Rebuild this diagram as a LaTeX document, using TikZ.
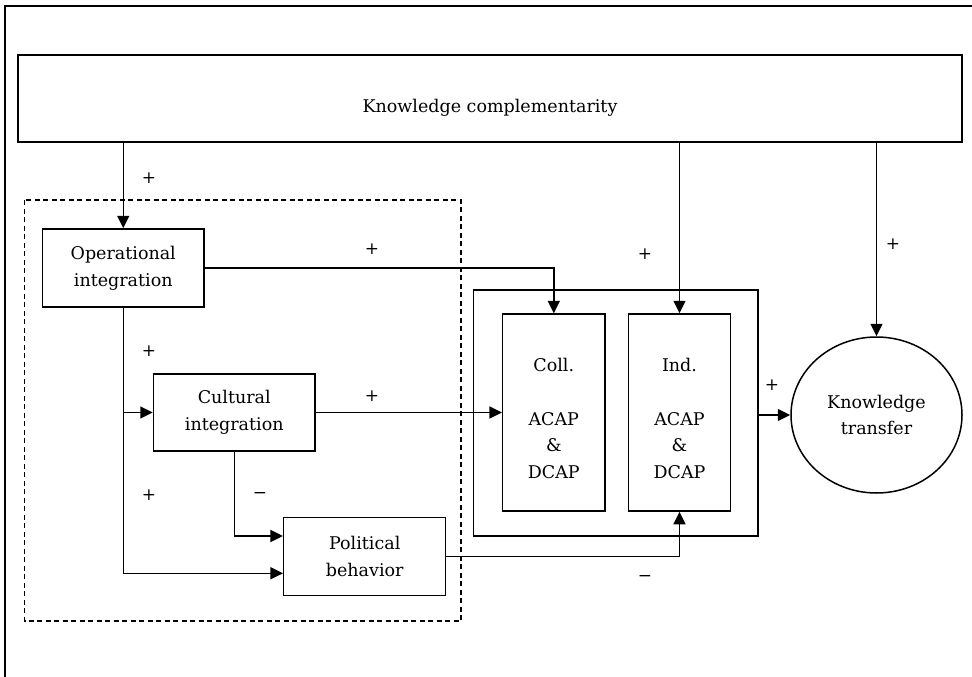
\documentclass[tikz,border=0pt]{standalone}
\usepackage{fontspec}
\setmainfont{DejaVu Serif}
\usetikzlibrary{arrows.meta,shapes.geometric,calc}
\begin{document}
\begin{tikzpicture}[x=1pt,y=-1pt,
  line width=1.5pt,
  txt/.style={font=\fontsize{17.5}{26.7}\selectfont},
  box/.style={draw,rectangle,inner sep=0pt,align=center,txt},
  capbox/.style={draw,rectangle,inner sep=0pt,minimum width=102.4,minimum height=197},
  captext/.style={inner sep=0pt,align=center,txt,yshift=-6pt},
  sign/.style={inner sep=0pt,font=\fontsize{17}{20}\selectfont},
  arr/.style={-{Triangle[length=12.5pt,width=12pt]}}]
\useasboundingbox (0,0) rectangle (972,677);
% page frame (only top and left edges are in view)
\draw (5,677) -- (5,6) -- (972,6);

% top factor
\node[box,minimum width=944,minimum height=87] (kc) at (490,98.5) {};
\node[txt,inner sep=0pt] (kclabel) at (490,108) {Knowledge complementarity};

% integration group
\draw[dashed,dash pattern=on 5pt off 3.5pt] (24.5,200) rectangle (461,621);
\node[box,minimum width=161.5,minimum height=78] (oi) at (123.25,268) {Operational\\integration};
\node[box,minimum width=161.5,minimum height=77] (ci) at (234.25,412.5) {Cultural\\integration};
\node[box,minimum width=162,minimum height=78] (pb) at (364.7,556.7) {Political\\behavior};

% capabilities
\node[box,minimum width=284.5,minimum height=246] (acap) at (615.5,413) {};
\node[capbox] (coll) at (553.8,412.5) {};
\node[captext] (colltext) at (coll.center) {Coll.\\[26.7pt]ACAP\\\&\\DCAP};
\node[capbox] (ind) at (679.5,412.5) {};
\node[captext] (indtext) at (ind.center) {Ind.\\[26.7pt]ACAP\\\&\\DCAP};

% outcome
\node[draw,ellipse,minimum width=171,minimum height=156,inner sep=0pt,align=center,txt] (kt) at (876.5,415) {Knowledge\\transfer};

% connectors
\draw[arr] (kc.south -| oi.north) -- (oi.north);
\draw[arr] (kc.south -| ind.north) -- (ind.north);
\draw[arr] (kc.south -| kt.north) -- (kt.north);
\draw[arr] (oi.east) -| (coll.north);
\draw[arr] (oi.south) |- ($(pb.west)+(0,16.6)$);
\draw[arr] (oi.south |- ci.west) -- (ci.west);
\draw[arr] (ci.east) -- (coll.west);
\draw[arr] (ci.south) |- ($(pb.west)+(0,-20.7)$);
\draw[arr] (pb.east) -| (ind.south);
\draw[arr] (acap.east |- kt.west) -- (kt.west);

% signs
\node[sign] (s1) at (149,178) {+};
\node[sign] (s2) at (372,249) {+};
\node[sign] (s3) at (645,254) {+};
\node[sign] (s4) at (893,244) {+};
\node[sign] (s5) at (149,351) {+};
\node[sign] (s6) at (372,396) {+};
\node[sign] (s7) at (149,495) {+};
\node[sign] (s8) at (260,495) {−};
\node[sign] (s9) at (772,385) {+};
\node[sign] (s10) at (645,578) {−};
\end{tikzpicture}
\end{document}
